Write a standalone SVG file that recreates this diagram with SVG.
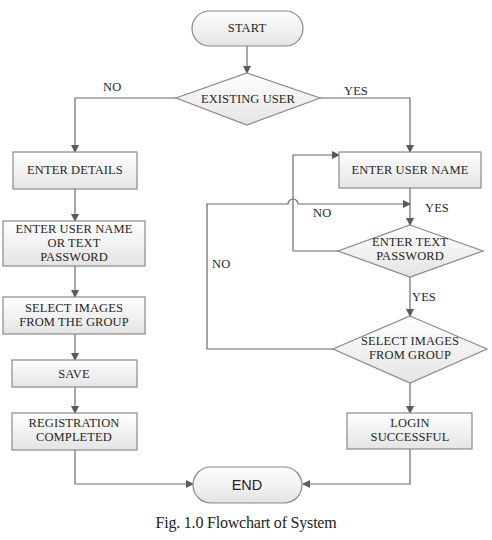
<svg xmlns="http://www.w3.org/2000/svg" width="492" height="540" viewBox="0 0 492 540">
<defs>
<linearGradient id="g" x1="0" y1="0" x2="0" y2="1">
<stop offset="0" stop-color="#ffffff"/>
<stop offset="1" stop-color="#e4e4e4"/>
</linearGradient>
<marker id="a" markerWidth="8" markerHeight="8" refX="7" refY="4" orient="auto" markerUnits="userSpaceOnUse">
<path d="M0,0 L8,4 L0,8 z" fill="#5a5a5a"/>
</marker>
<style>
.n{fill:url(#g);stroke:#8a8a8a;stroke-width:1.2}
.t{font-family:"Liberation Serif","Times New Roman",serif;font-size:12.5px;fill:#262626;text-anchor:middle;letter-spacing:0.1px}
.l{font-family:"Liberation Serif","Times New Roman",serif;font-size:12.5px;fill:#262626;letter-spacing:0.1px}
.ca{fill:none;stroke:#6a6a6a;stroke-width:1.2;marker-end:url(#a)}
.cap{font-family:"Liberation Serif","Times New Roman",serif;font-size:16px;fill:#222;text-anchor:middle;letter-spacing:-0.2px}
</style>
</defs>
<rect width="492" height="540" fill="#fff"/>
<g id="connectors">
<path class="ca" d="M247,46 V73"/>
<path class="ca" d="M176,98 H75 V152"/>
<path class="ca" d="M320,98 H410 V152"/>
<path class="ca" d="M75,189 V221"/>
<path class="ca" d="M75,266 V297"/>
<path class="ca" d="M75,334 V360"/>
<path class="ca" d="M75,387 V413"/>
<path class="ca" d="M75,450 V484 H193"/>
<path class="ca" d="M410,188 V225"/>
<path class="ca" d="M338,251 H293 V155 H339"/>
<path class="ca" d="M333,349 H207 V204 H288 A5,5 0 0 1 298,204 H410"/>
<path class="ca" d="M410,277 V316"/>
<path class="ca" d="M410,383 V413"/>
<path class="ca" d="M410,449 V484 H303"/>
</g>
<g id="start">
<rect class="n" x="192" y="11" width="111" height="35" rx="17.5"/>
<text class="t" x="247" y="32">START</text>
</g>
<g id="existing-user">
<polygon class="n" points="247,73 320,98 247,125 176,98"/>
<text class="t" x="248" y="103">EXISTING USER</text>
</g>
<g id="enter-details">
<rect class="n" x="13" y="152" width="124" height="37"/>
<text class="t" x="75" y="174">ENTER DETAILS</text>
</g>
<g id="enter-user-name-or-text-password">
<rect class="n" x="3" y="221" width="142" height="45"/>
<text class="t" x="74" y="233">ENTER USER NAME</text>
<text class="t" x="74" y="247">OR TEXT</text>
<text class="t" x="74" y="261">PASSWORD</text>
</g>
<g id="select-images-from-the-group">
<rect class="n" x="3" y="297" width="142" height="37"/>
<text class="t" x="74" y="312">SELECT IMAGES</text>
<text class="t" x="74" y="326">FROM THE GROUP</text>
</g>
<g id="save">
<rect class="n" x="12" y="360" width="125" height="27"/>
<text class="t" x="74" y="378">SAVE</text>
</g>
<g id="registration-completed">
<rect class="n" x="12" y="413" width="125" height="37"/>
<text class="t" x="74" y="427">REGISTRATION</text>
<text class="t" x="74" y="441">COMPLETED</text>
</g>
<g id="end">
<rect class="n" x="193" y="467" width="109" height="36" rx="18"/>
<text class="t" x="247" y="490" style="font-family:'Liberation Sans',Arial,sans-serif;font-size:14.5px;letter-spacing:0">END</text>
</g>
<g id="enter-user-name">
<rect class="n" x="339" y="152" width="142" height="36"/>
<text class="t" x="410" y="174">ENTER USER NAME</text>
</g>
<g id="enter-text-password">
<polygon class="n" points="410,225 483,251 410,277 338,251"/>
<text class="t" x="410" y="246">ENTER TEXT</text>
<text class="t" x="410" y="260">PASSWORD</text>
</g>
<g id="select-images-from-group">
<polygon class="n" points="410,316 487,349 410,383 333,349"/>
<text class="t" x="410" y="345">SELECT IMAGES</text>
<text class="t" x="410" y="359">FROM GROUP</text>
</g>
<g id="login-successful">
<rect class="n" x="347" y="413" width="125" height="36"/>
<text class="t" x="410" y="427">LOGIN</text>
<text class="t" x="410" y="441">SUCCESSFUL</text>
</g>
<g id="labels">
<text class="l" x="103" y="91">NO</text>
<text class="l" x="344" y="95">YES</text>
<text class="l" x="313" y="217">NO</text>
<text class="l" x="425" y="212">YES</text>
<text class="l" x="212" y="268">NO</text>
<text class="l" x="412" y="301">YES</text>
</g>
<text class="cap" x="246" y="528">Fig. 1.0 Flowchart of System</text>
</svg>
